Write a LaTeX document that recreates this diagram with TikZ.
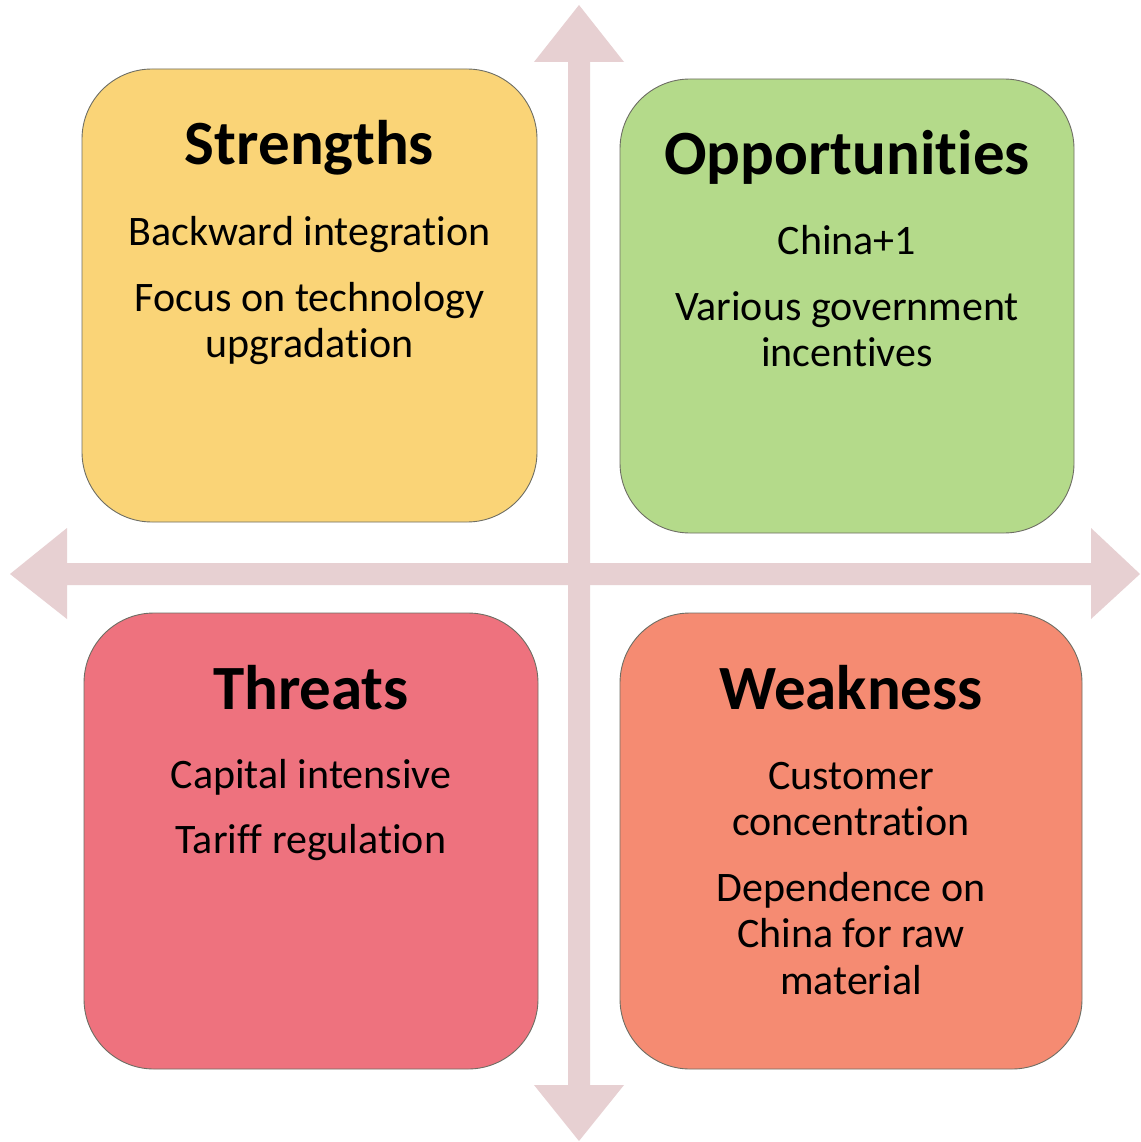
\documentclass[tikz,border=0pt]{standalone}
\usepackage{fontspec}
\setmainfont[Ligatures={NoCommon}]{Carlito}
\definecolor{axiscol}{RGB}{231,208,210}
\definecolor{strcol}{RGB}{250,212,119}
\definecolor{oppcol}{RGB}{180,218,138}
\definecolor{thrcol}{RGB}{238,114,126}
\definecolor{weacol}{RGB}{245,139,114}
\definecolor{edgecol}{RGB}{110,110,100}
\begin{document}
\begin{tikzpicture}[x=1pt,y=-1pt,
  quad/.style={draw=edgecol,line width=0.9pt,rounded corners=70pt},
  heading/.style={anchor=base,inner sep=0pt,font=\fontsize{63}{70}\selectfont\bfseries},
  item/.style={anchor=base,inner sep=0pt,font=\fontsize{42}{46}\selectfont}]
\useasboundingbox[fill=white] (0,0) rectangle (1140,1142);

% crossed double-headed axes
\fill[axiscol] (568,62) -- (534,62) -- (579,5) -- (624,62) -- (590,62)
  -- (590,1085) -- (624,1085) -- (579,1141) -- (534,1085) -- (568,1085) -- cycle;
\fill[axiscol] (67,563) -- (67,528) -- (10,574) -- (67,619) -- (67,585)
  -- (1091,585) -- (1091,619) -- (1140,574) -- (1091,528) -- (1091,563) -- cycle;

% four quadrants
\draw[quad,fill=strcol] (82,69) rectangle (537,522);
\draw[quad,fill=oppcol] (620,79) rectangle (1074,533);
\draw[quad,fill=thrcol] (84,613) rectangle (538,1069);
\draw[quad,fill=weacol] (620,613) rectangle (1082,1069);

% Strengths
\node[heading] (sT) at (309.5,165) {Strengths};
\node[item] (s1) at (309.5,245) {Backward integration};
\node[item] (s2) at (309.5,311) {Focus on technology};
\node[item] (s3) at (309.5,357) {upgradation};

% Opportunities
\node[heading] (oT) at (847,175) {Opportunities};
\node[item] (o1) at (847,254) {China+1};
\node[item] (o2) at (847,320) {Various government};
\node[item] (o3) at (847,366) {incentives};

% Threats
\node[heading] (tT) at (311,709) {Threats};
\node[item] (t1) at (311,788) {Capital intensive};
\node[item] (t2) at (311,853) {Tariff regulation};

% Weakness
\node[heading] (wT) at (851,709) {Weakness};
\node[item] (w1) at (851,789) {Customer};
\node[item] (w2) at (851,835) {concentration};
\node[item] (w3) at (851,901) {Dependence on};
\node[item] (w4) at (851,947) {China for raw};
\node[item] (w5) at (851,994) {material};
\end{tikzpicture}
\end{document}
